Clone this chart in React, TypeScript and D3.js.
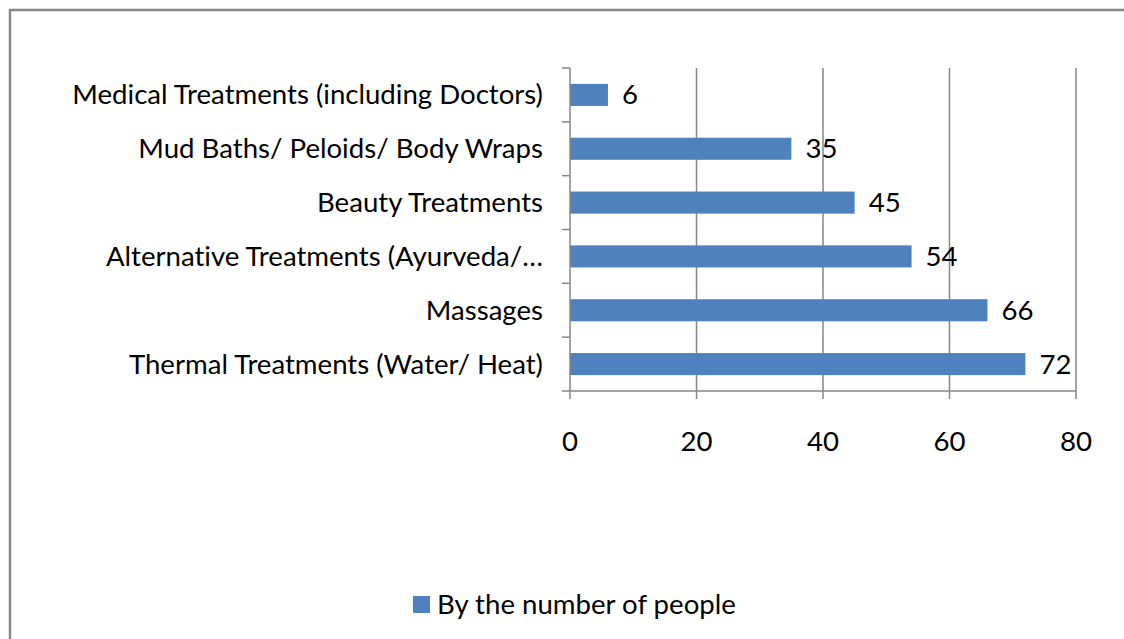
import React from "react";
import * as d3 from "d3";

const categories = [
  "Medical Treatments (including Doctors)",
  "Mud Baths/ Peloids/ Body Wraps",
  "Beauty Treatments",
  "Alternative Treatments (Ayurveda/…",
  "Massages",
  "Thermal Treatments (Water/ Heat)",
];
const values = [6, 35, 45, 54, 66, 72];
const xTicks = [0, 20, 40, 60, 80];
const seriesName = "By the number of people";

const W = 1124;
const H = 639;
const FONT = "Lato, 'Open Sans', sans-serif";
const FS = 27.6;
const GRAY = "#868686";
const BAR = "#4F81BD";

export default function App() {
  const x = d3.scaleLinear().domain([0, 80]).range([570, 1076]);
  const y = d3
    .scaleBand<string>()
    .domain(categories)
    .range([68, 391])
    .paddingInner(0.59)
    .paddingOuter(0.295);
  const boundaries = d3.range(categories.length + 1).map((i) => 68 + i * ((391 - 68) / categories.length));

  return (
    <svg
      width={W}
      height={H}
      style={{ position: "absolute", left: 0, top: 0, background: "#fff", fontVariantLigatures: "none" }}
      fontFamily={FONT}
    >
      <rect x={0} y={0} width={W} height={H} fill="#fff" />
      <rect x={10} y={10} width={1300} height={800} fill="none" stroke="#888" strokeWidth={2.5} />

      {/* gridlines */}
      {xTicks.slice(1).map((t) => (
        <line key={"g" + t} x1={x(t)} x2={x(t)} y1={68} y2={391} stroke={GRAY} strokeWidth={1.5} />
      ))}

      {/* bars */}
      {categories.map((c, i) => (
        <rect
          key={c}
          x={x(0)}
          y={y(c)!}
          width={x(values[i]) - x(0)}
          height={y.bandwidth()}
          fill={BAR}
        />
      ))}

      {/* axes */}
      <line x1={x(0)} x2={x(0)} y1={68} y2={391} stroke={GRAY} strokeWidth={1.5} />
      <line x1={x(0)} x2={x(80)} y1={391} y2={391} stroke={GRAY} strokeWidth={1.5} />
      {boundaries.map((b, i) => (
        <line key={"yt" + i} x1={562} x2={x(0)} y1={b} y2={b} stroke={GRAY} strokeWidth={1.5} />
      ))}
      {xTicks.map((t) => (
        <line key={"xt" + t} x1={x(t)} x2={x(t)} y1={391} y2={399} stroke={GRAY} strokeWidth={1.5} />
      ))}

      {/* x tick labels */}
      {xTicks.map((t) => (
        <text key={"xl" + t} x={x(t)} y={440} textAnchor="middle" dominantBaseline="central" fontSize={FS} fill="#000">
          {t}
        </text>
      ))}

      {/* category labels */}
      {categories.map((c) => (
        <text
          key={"cl" + c}
          x={543}
          y={y(c)! + y.bandwidth() / 2 - 1}
          textAnchor="end"
          dominantBaseline="central"
          fontSize={FS}
          fill="#000"
        >
          {c}
        </text>
      ))}

      {/* value labels */}
      {categories.map((c, i) => (
        <text
          key={"vl" + c}
          x={x(values[i]) + 14}
          y={y(c)! + y.bandwidth() / 2 - 1}
          dominantBaseline="central"
          fontSize={FS}
          fill="#000"
        >
          {values[i]}
        </text>
      ))}

      {/* legend */}
      <rect x={413} y={596} width={17} height={17} fill={BAR} />
      <text x={437} y={603.5} dominantBaseline="central" fontSize={FS} fill="#000">
        {seriesName}
      </text>
    </svg>
  );
}
